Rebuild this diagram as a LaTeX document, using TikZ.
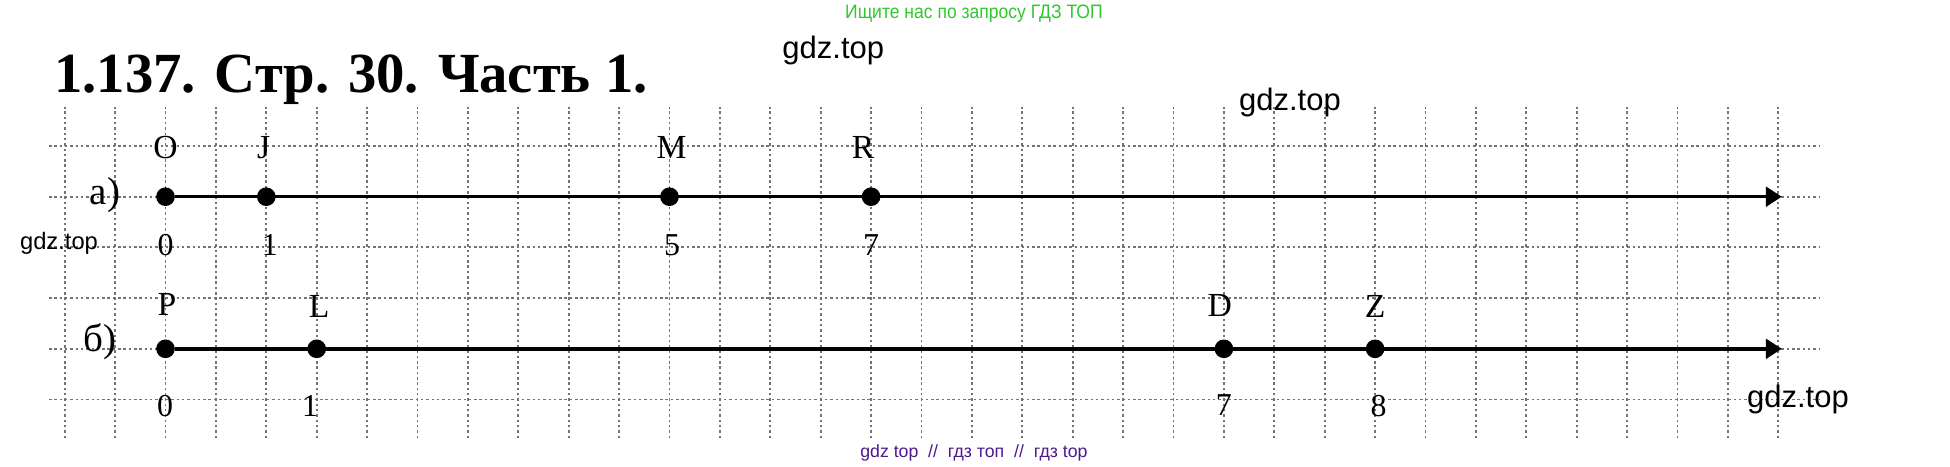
\documentclass[tikz,border=0pt]{standalone}
\usepackage{fontspec}
\usepackage{graphicx}
\setmainfont{Liberation Serif}
\newfontfamily\gdzfont{Liberation Sans}
\usetikzlibrary{arrows.meta}
\definecolor{gdzgreen}{RGB}{45,200,45}
\definecolor{gdzpurple}{RGB}{75,25,140}
\tikzset{>={Triangle[length=9pt,width=11pt]}}

\begin{document}
\begin{tikzpicture}[x=1cm,y=1.006cm,
    gridline/.style={black!55,line width=1.1pt,dash pattern=on 1.4pt off 1.6pt},
    axisline/.style={->,line width=2pt},
    dot/.style={circle,fill=black,inner sep=0pt,minimum size=0.37cm},
    letter/.style={font=\fontsize{19}{19}\selectfont,inner sep=0pt},
    number/.style={font=\fontsize{18}{18}\selectfont,inner sep=0pt},
    part/.style={font=\fontsize{22}{22}\selectfont,inner sep=0pt},
    wmbig/.style={font=\gdzfont\fontsize{17.5}{17.5}\selectfont,inner sep=0pt}]
    \useasboundingbox (-1.2837,-5.3116) rectangle (37.4067,3.8797);
    % grid
    \foreach \x in {0,...,34}
      \draw[gridline] (\x,-4.759) -- (\x,1.769);
    \foreach \y in {1,0,...,-4}
      \draw[gridline] (-0.311,\y) -- (34.83,\y);
    % title and watermarks
    \node[anchor=base west,inner sep=0pt,font=\bfseries\fontsize{32}{32}\selectfont] (title) at (-0.212,2.06) {1.137. Стр. 30. Часть 1.};
    \node[gdzgreen,inner sep=0pt,font=\gdzfont\fontsize{11}{11}\selectfont] (search) at (18.04,3.61) {\scalebox{0.9}[1]{Ищите нас по запросу ГДЗ ТОП}};
    \node[wmbig] (wmtop) at (15.25,2.88) {gdz.top};
    \node[wmbig] (wmmid) at (24.31,1.85) {gdz.top};
    \node[inner sep=0pt,font=\gdzfont\fontsize{13.4}{13.4}\selectfont] (wmleft) at (-0.113,-0.93) {gdz.top};
    \node[wmbig] (wmright) at (34.39,-3.99) {gdz.top};
    \node[gdzpurple,inner sep=0pt,font=\gdzfont\fontsize{10}{10}\selectfont] (wmbottom) at (18.04,-5.05) {gdz top~~//~~гдз топ~~//~~гдз top};
    % a)
    \node[part] (parta) at (0.8,0.03) {а)};
    \node[dot] (O) at (2,0) {};
    \node[dot] (J) at (4,0) {};
    \node[dot] (M) at (12,0) {};
    \node[dot] (R) at (16,0) {};
    \coordinate (enda) at (34.07,0);
    \draw[axisline] (O) -- (enda);
    \node[letter] (lO) at (2,0.97) {O};
    \node[letter] (lJ) at (3.95,0.97) {J};
    \node[letter] (lM) at (12.04,0.97) {M};
    \node[letter] (lR) at (15.84,0.97) {R};
    \node[number] (nO) at (2,-0.95) {0};
    \node[number] (nJ) at (4.07,-0.95) {1};
    \node[number] (nM) at (12.05,-0.95) {5};
    \node[number] (nR) at (16,-0.95) {7};
    % b)
    \node[part] (partb) at (0.7,-2.86) {б)};
    \node[dot] (P) at (2,-3) {};
    \node[dot] (L) at (5,-3) {};
    \node[dot] (D) at (23,-3) {};
    \node[dot] (Z) at (26,-3) {};
    \coordinate (endb) at (34.07,-3);
    \draw[axisline] (P) -- (endb);
    \node[letter] (lP) at (2.03,-2.12) {P};
    \node[letter] (lL) at (5.05,-2.16) {L};
    \node[letter] (lD) at (22.92,-2.14) {D};
    \node[letter] (lZ) at (26,-2.16) {Z};
    \node[number] (nP) at (1.99,-4.12) {0};
    \node[number] (nL) at (4.87,-4.12) {1};
    \node[number] (nD) at (23,-4.1) {7};
    \node[number] (nZ) at (26.07,-4.12) {8};
\end{tikzpicture}
\end{document}
